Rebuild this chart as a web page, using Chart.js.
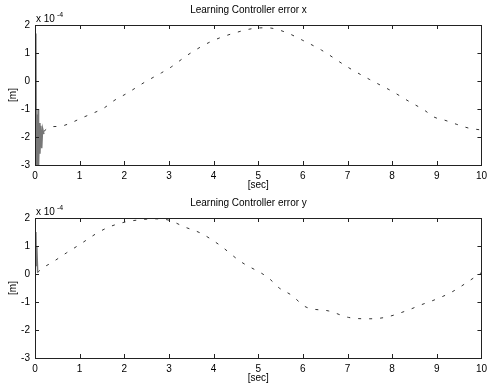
<!DOCTYPE html>
<html>
<head>
<meta charset="utf-8">
<script src="https://cdn.jsdelivr.net/npm/chart.js@4.4.1/dist/chart.umd.min.js"></script>
<style>
  html, body { margin: 0; padding: 0; background: #fff; }
  #wrap { position: relative; width: 492px; height: 386px; }
  canvas { position: absolute; left: 0; }
  #chartX { top: 0; }
  #chartY { top: 193px; }
</style>
</head>
<body>
<div id="wrap">
  <canvas id="chartX" width="492" height="193"></canvas>
  <canvas id="chartY" width="492" height="193"></canvas>
</div>
<script>
/* --------------- Data ------------------------------------------ */
const xTicks = [0, 1, 2, 3, 4, 5, 6, 7, 8, 9, 10];
const yTicks = [-3, -2, -1, 0, 1, 2];

// error x : start transient + main curve
const errXStartT = [0, 0.02, 0.03, 0.04, 0.05, 0.07, 0.08, 0.1, 0.11, 0.13, 0.15, 0.17, 0.2];
const errXStartV = [0, 1.7, -3, -1.2, -3, -1.0, -3, -1.5, -2.6, -1.6, -2.4, -1.7, -1.9];
const errXT = [0.2, 0.33, 0.55, 0.8, 1.03, 1.3, 1.55, 1.77, 2.06, 2.47, 2.83, 3.05, 3.42, 3.93, 4.46, 4.97, 5.2, 5.6, 6.0, 6.42, 7.0, 7.5, 7.99, 8.4, 8.72, 8.94, 9.16, 9.45, 9.71, 10];
const errXV = [-1.8, -1.64, -1.62, -1.5, -1.33, -1.15, -0.96, -0.7, -0.44, -0.03, 0.29, 0.5, 0.93, 1.4, 1.71, 1.89, 1.9, 1.75, 1.45, 1.1, 0.5, 0.05, -0.36, -0.75, -1.04, -1.29, -1.39, -1.55, -1.68, -1.75];

// error y : start spike + main curve
const errYStartT = [0, 0.02, 0.03, 0.04, 0.06];
const errYStartV = [0.3, 1.5, 0.3, 1.0, 0.05];
const errYT = [0.06, 0.11, 0.4, 0.7, 0.99, 1.39, 1.66, 2.03, 2.32, 2.65, 2.98, 3.35, 3.71, 4.13, 4.6, 5.23, 5.47, 5.74, 6.07, 6.58, 7.02, 7.46, 7.84, 8.34, 8.65, 8.94, 9.34, 9.76, 10];
const errYV = [0.05, 0.14, 0.43, 0.75, 1.04, 1.46, 1.68, 1.86, 1.93, 1.97, 1.93, 1.68, 1.46, 1.04, 0.45, -0.14, -0.5, -0.75, -1.18, -1.32, -1.55, -1.6, -1.55, -1.3, -1.1, -0.93, -0.64, -0.21, 0.05];

const FONT = "'Liberation Sans', Arial, sans-serif";

const toPoints = (t, v) => t.map((x, i) => ({ x: x, y: v[i] }));

/* --------------- MATLAB style box, inward ticks, exponent --------------------- */
const matlabAxes = {
  id: "matlabAxes",
  afterDraw(chart) {
    const ctx = chart.ctx;
    const a = chart.chartArea;
    const sx = chart.scales.x;
    const sy = chart.scales.y;
    ctx.save();
    ctx.strokeStyle = "#222";
    ctx.lineWidth = 1;
    ctx.strokeRect(Math.round(a.left) + 0.5, Math.round(a.top) + 0.5,
      Math.round(a.right - a.left), Math.round(a.bottom - a.top));
    ctx.beginPath();
    xTicks.forEach((t) => {
      const px = Math.round(sx.getPixelForValue(t)) + 0.5;
      ctx.moveTo(px, a.bottom); ctx.lineTo(px, a.bottom - 4);
      ctx.moveTo(px, a.top); ctx.lineTo(px, a.top + 4);
    });
    yTicks.forEach((t) => {
      const py = Math.round(sy.getPixelForValue(t)) + 0.5;
      ctx.moveTo(a.left, py); ctx.lineTo(a.left + 4, py);
      ctx.moveTo(a.right, py); ctx.lineTo(a.right - 4, py);
    });
    ctx.stroke();
    // exponent label
    ctx.fillStyle = "#000";
    ctx.textBaseline = "alphabetic";
    ctx.font = "10px " + FONT;
    ctx.fillText("x 10", a.left + 1, a.top - 3);
    ctx.font = "7px " + FONT;
    ctx.fillText("-4", a.left + 22, a.top - 8);
    ctx.restore();
  },
};

function makeChart(id, title, xTitle, startT, startV, mainT, mainV) {
  return new Chart(document.getElementById(id), {
    type: "line",
    plugins: [matlabAxes],
    data: {
      datasets: [
        {
          data: toPoints(startT, startV),
          borderColor: "#777",
          borderWidth: 1.5,
          pointRadius: 0,
          tension: 0,
        },
        {
          data: toPoints(mainT, mainV),
          borderColor: "#333",
          borderWidth: 1,
          borderDash: [3, 8],
          pointRadius: 0,
          cubicInterpolationMode: "monotone",
        },
      ],
    },
    options: {
      responsive: false,
      animation: false,
      devicePixelRatio: 1,
      layout: { padding: { left: 7, right: 2, top: 0, bottom: 0 } },
      plugins: {
        legend: { display: false },
        tooltip: { enabled: false },
        title: {
          display: true,
          text: title,
          color: "#000",
          font: { family: FONT, size: 10, weight: "normal" },
          padding: { top: 4, bottom: 9 },
        },
      },
      scales: {
        x: {
          type: "linear",
          min: 0,
          max: 10,
          afterBuildTicks: (s) => { s.ticks = xTicks.map((v) => ({ value: v })); },
          afterFit: (s) => { s.height = 28; },
          grid: { display: false, drawTicks: false },
          border: { display: false },
          ticks: { color: "#000", padding: 5, maxRotation: 0, font: { family: FONT, size: 10 } },
          title: {
            display: true,
            text: xTitle,
            color: "#000",
            padding: { top: 0, bottom: 2 },
            font: { family: FONT, size: 10 },
          },
        },
        y: {
          min: -3,
          max: 2,
          afterBuildTicks: (s) => { s.ticks = yTicks.map((v) => ({ value: v })); },
          afterFit: (s) => { s.width = 28; },
          grid: { display: false, drawTicks: false },
          border: { display: false },
          ticks: { color: "#000", padding: 5, font: { family: FONT, size: 10 } },
          title: {
            display: true,
            text: "[m]",
            color: "#000",
            padding: { top: 0, bottom: 0 },
            font: { family: FONT, size: 10 },
          },
        },
      },
    },
  });
}

makeChart("chartX", "Learning Controller error x", "[sec]", errXStartT, errXStartV, errXT, errXV);
makeChart("chartY", "Learning Controller error y", "[sec]", errYStartT, errYStartV, errYT, errYV);
</script>
</body>
</html>
